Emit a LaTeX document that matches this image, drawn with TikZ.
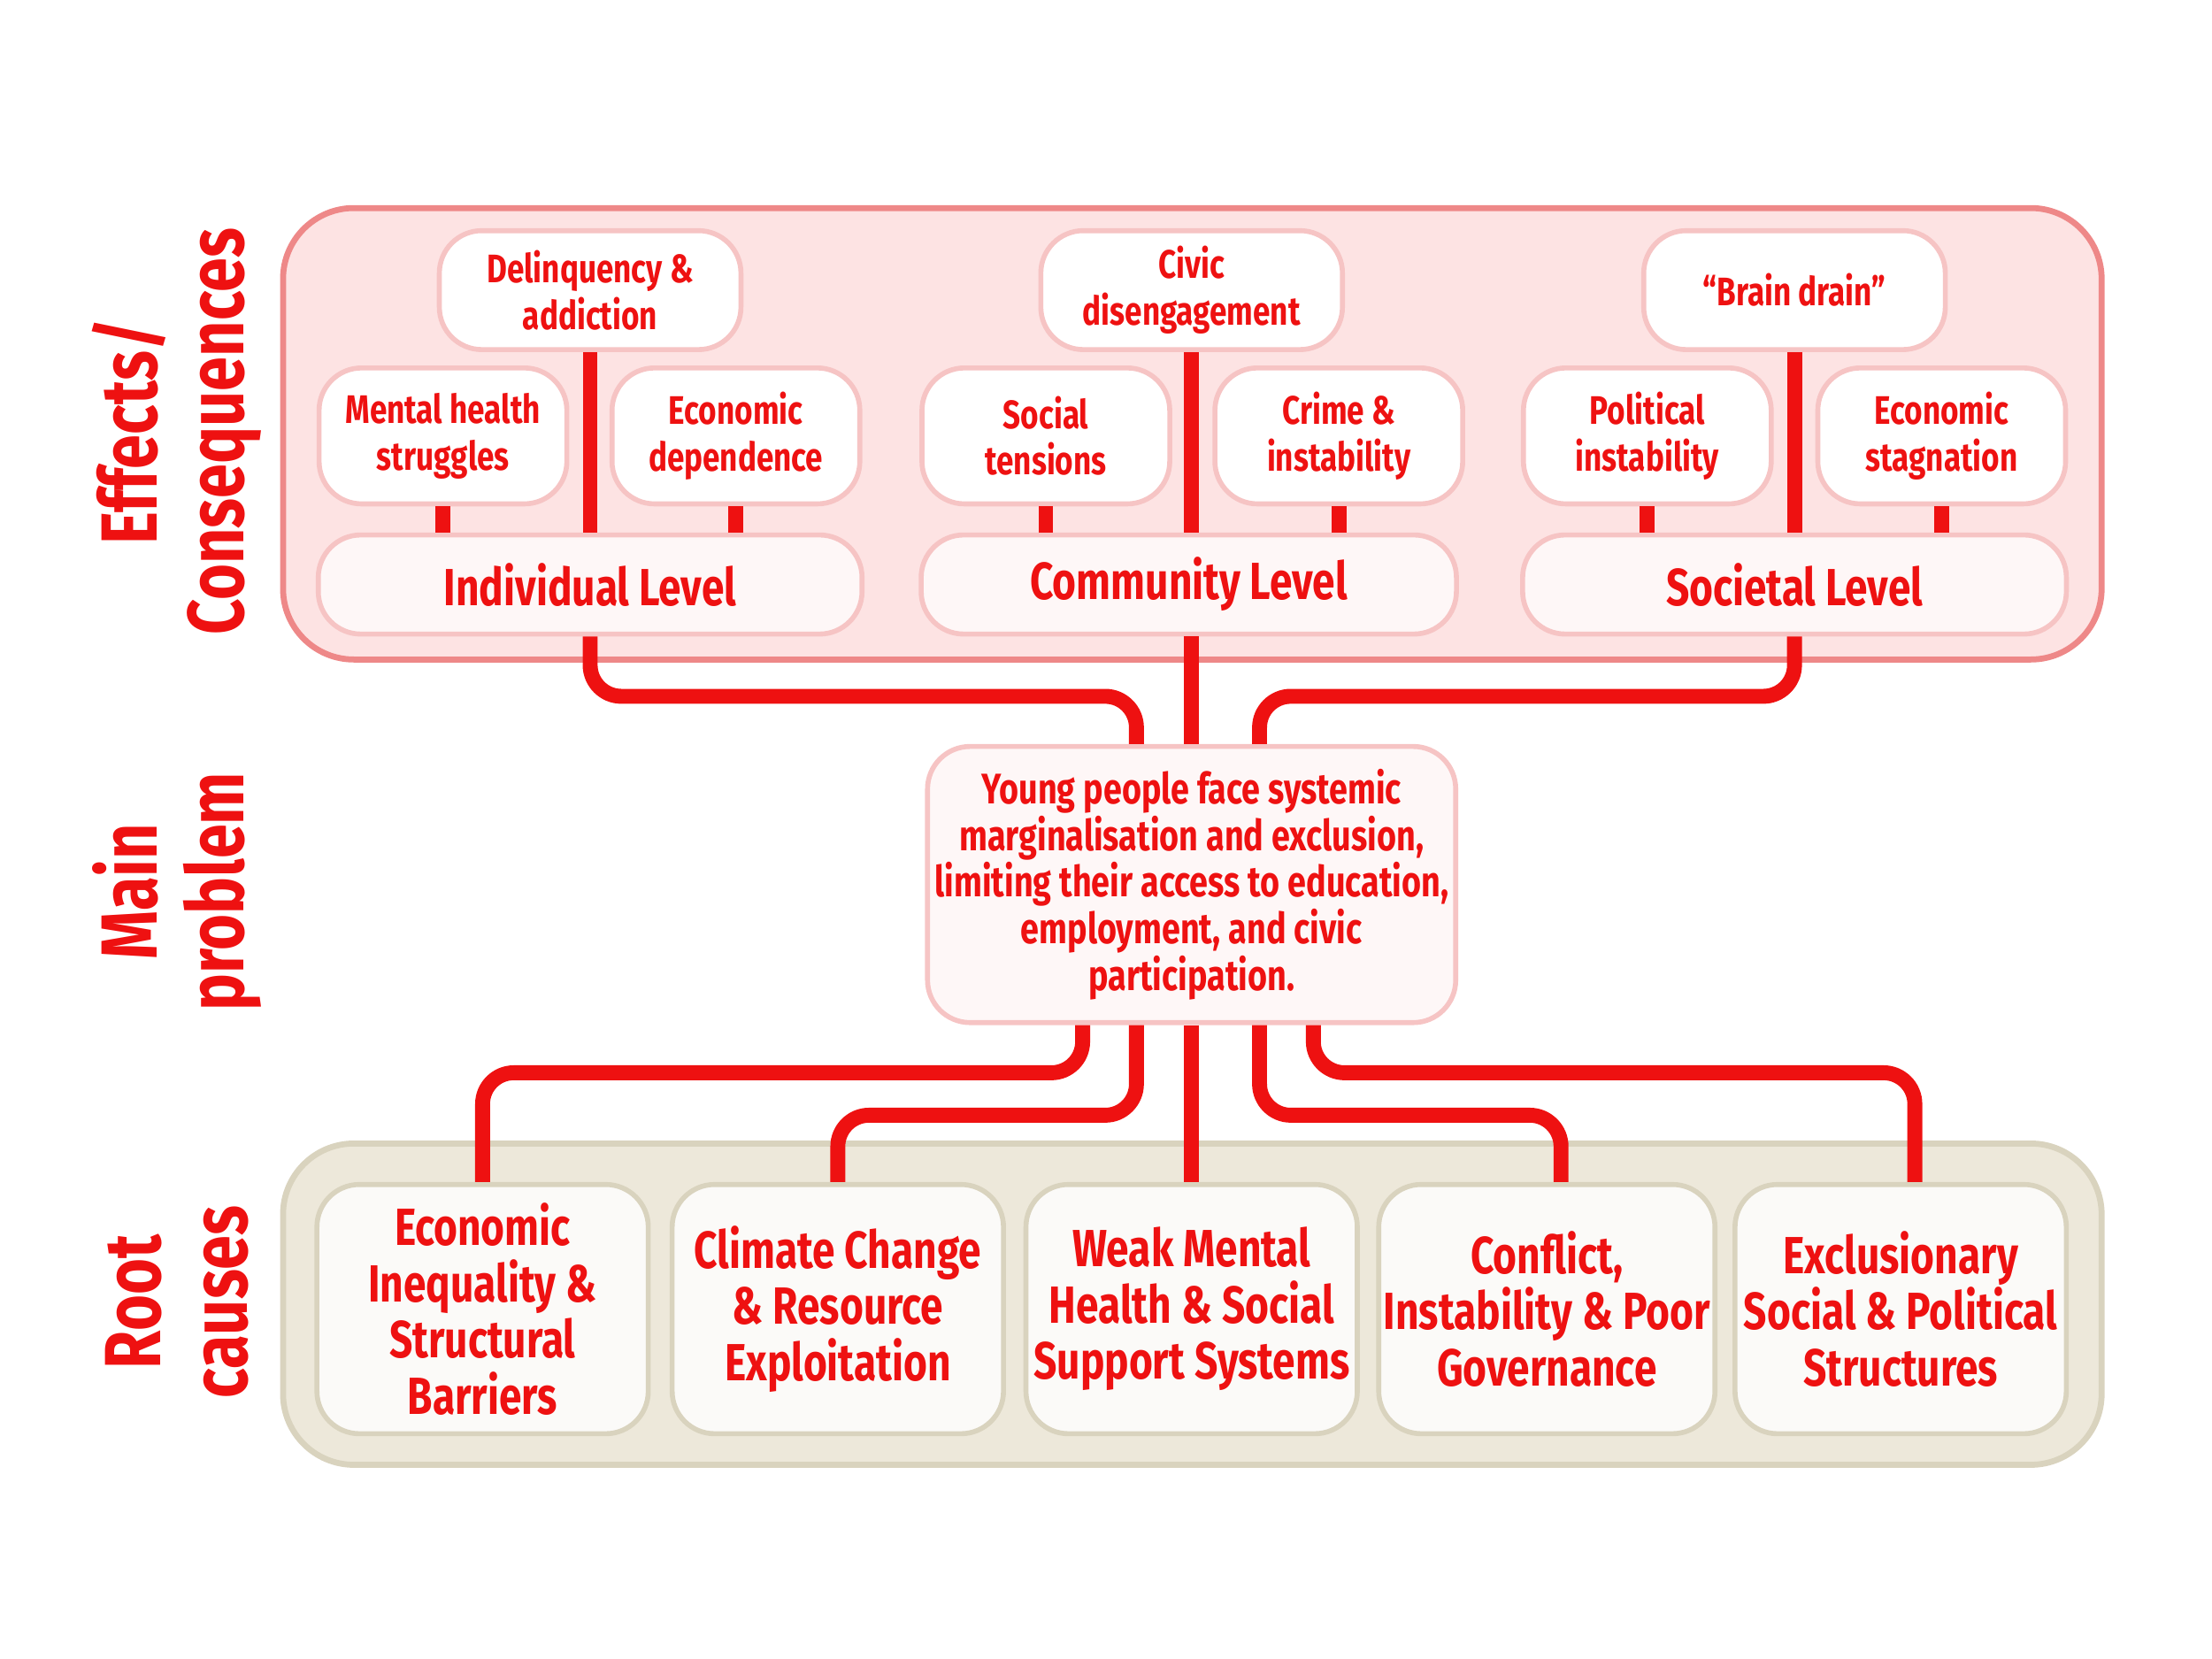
\documentclass[tikz,border=0pt]{standalone}
\usepackage{fontspec}
\setmainfont{Fira Sans}[FakeStretch=0.78]
\usetikzlibrary{positioning}
\definecolor{tred}{HTML}{EE1111}
\definecolor{pinkbg}{HTML}{FDE3E3}
\definecolor{pinkln}{HTML}{EE8888}
\definecolor{boxln}{HTML}{F6C4C4}
\definecolor{beigebg}{HTML}{EDE8DA}
\definecolor{beigeln}{HTML}{D9D3BE}
\tikzset{
  panel/.style={rounded corners=0.5cm,line width=1.2pt},
  effect/.style={draw=boxln,fill=white,line width=1pt,rounded corners=0.3cm,inner sep=1pt,
    minimum width=1.75cm,minimum height=0.96cm,align=center,text=tred,
    font=\bfseries\fontsize{8}{9.4}\selectfont},
  level/.style={draw=boxln,fill=white!70!pinkbg,line width=1pt,rounded corners=0.3cm,inner sep=1pt,
    minimum width=3.84cm,minimum height=0.7cm,text=tred,
    font=\bfseries\fontsize{10.5}{12}\selectfont},
  cause/.style={draw=beigeln,fill=white!80!beigebg,line width=1pt,rounded corners=0.3cm,inner sep=1pt,
    minimum width=2.34cm,minimum height=1.76cm,align=center,text=tred,
    font=\bfseries\fontsize{10.5}{11.3}\selectfont},
  side/.style={rotate=90,align=center,text=tred,font=\bfseries\fontsize{16}{17.5}\selectfont},
  link/.style={draw=tred,line width=3pt,rounded corners=0.22cm}
}
\begin{document}
\begin{tikzpicture}[x=0.01cm,y=-0.01cm]
  \useasboundingbox (0,0) rectangle (1563,1172);
  % panels
  \draw[panel,fill=pinkbg,draw=pinkln] (200,147) rectangle (1485,466);
  \draw[panel,fill=beigebg,draw=beigeln] (200,808) rectangle (1485,1035);
  % side labels
  \node[side] (sEff) at (125,305) {Effects/\\Consequences};
  \node[side] (sMain) at (125,630) {Main\\problem};
  \node[side] (sRoot) at (125,920) {Root\\causes};
  % effects
  \node[effect,minimum width=2.13cm,minimum height=0.84cm] (delq) at (417,205) {Delinquency \&\\addiction};
  \node[effect,minimum width=2.13cm,minimum height=0.84cm] (civic) at (842,205) {Civic\\disengagement};
  \node[effect,minimum width=2.13cm,minimum height=0.84cm] (brain) at (1268,205) {“Brain drain”};
  \node[effect] (mental) at (313,308) {Mental health\\struggles};
  \node[effect] (ecodep) at (520,308) {Economic\\dependence};
  \node[effect] (social) at (739,308) {Social\\tensions};
  \node[effect] (crime) at (946,308) {Crime \&\\instability};
  \node[effect] (polit) at (1164,308) {Political\\instability};
  \node[effect] (ecostag) at (1372,308) {Economic\\stagnation};
  % levels
  \node[level] (lvInd) at (417,413) {Individual Level};
  \node[level,minimum width=3.78cm] (lvCom) at (840,413) {Community Level};
  \node[level] (lvSoc) at (1268,413) {Societal Level};
  \foreach \a/\b in {delq/lvInd,brain/lvSoc,mental/lvInd,ecodep/lvInd,social/lvCom,crime/lvCom,polit/lvSoc,ecostag/lvSoc}
    \draw[link] (\a.south) -- (\a.south |- \b.north);
  \draw[link] (civic.south) -- (civic.south |- lvCom.north);
  % main problem
  \node[draw=boxln,fill=white!70!pinkbg,line width=1pt,rounded corners=0.3cm,inner sep=1pt,
    minimum width=3.73cm,minimum height=1.95cm,align=center,text=tred,
    font=\bfseries\fontsize{8.6}{9.4}\selectfont] (main) at (842,625)
    {Young people face systemic\\marginalisation and exclusion,\\limiting their access to education,\\employment, and civic\\participation.};
  % root causes
  \node[cause] (rc1) at (341,925) {Economic\\Inequality \&\\Structural\\Barriers};
  \node[cause] (rc2) at (592,925) {Climate Change\\\& Resource\\Exploitation};
  \node[cause] (rc3) at (842,925) {Weak Mental\\Health \& Social\\Support Systems};
  \node[cause] (rc4) at (1093,925) {Conflict,\\Instability \& Poor\\Governance};
  \node[cause] (rc5) at (1343,925) {Exclusionary\\Social \& Political\\Structures};
  % upper links
  \coordinate (u1) at (803,492);
  \coordinate (u3) at (890,492);
  \draw[link] (lvInd.south) |- (u1) -- (u1 |- main.north);
  \draw[link] (lvCom.south -| main.north) -- (main.north);
  \draw[link] (lvSoc.south) |- (u3) -- (u3 |- main.north);
  % lower links
  \coordinate (d1) at (765,758);
  \coordinate (d2) at (803,788);
  \coordinate (d4) at (890,788);
  \coordinate (d5) at (928,758);
  \draw[link] (d1 |- main.south) -- (d1) -| (rc1.north);
  \draw[link] (d2 |- main.south) -- (d2) -| (rc2.north);
  \draw[link] (main.south) -- (rc3.north);
  \draw[link] (d4 |- main.south) -- (d4) -| ([xshift=0.1cm]rc4.north);
  \draw[link] (d5 |- main.south) -- (d5) -| ([xshift=0.1cm]rc5.north);
\end{tikzpicture}
\end{document}
